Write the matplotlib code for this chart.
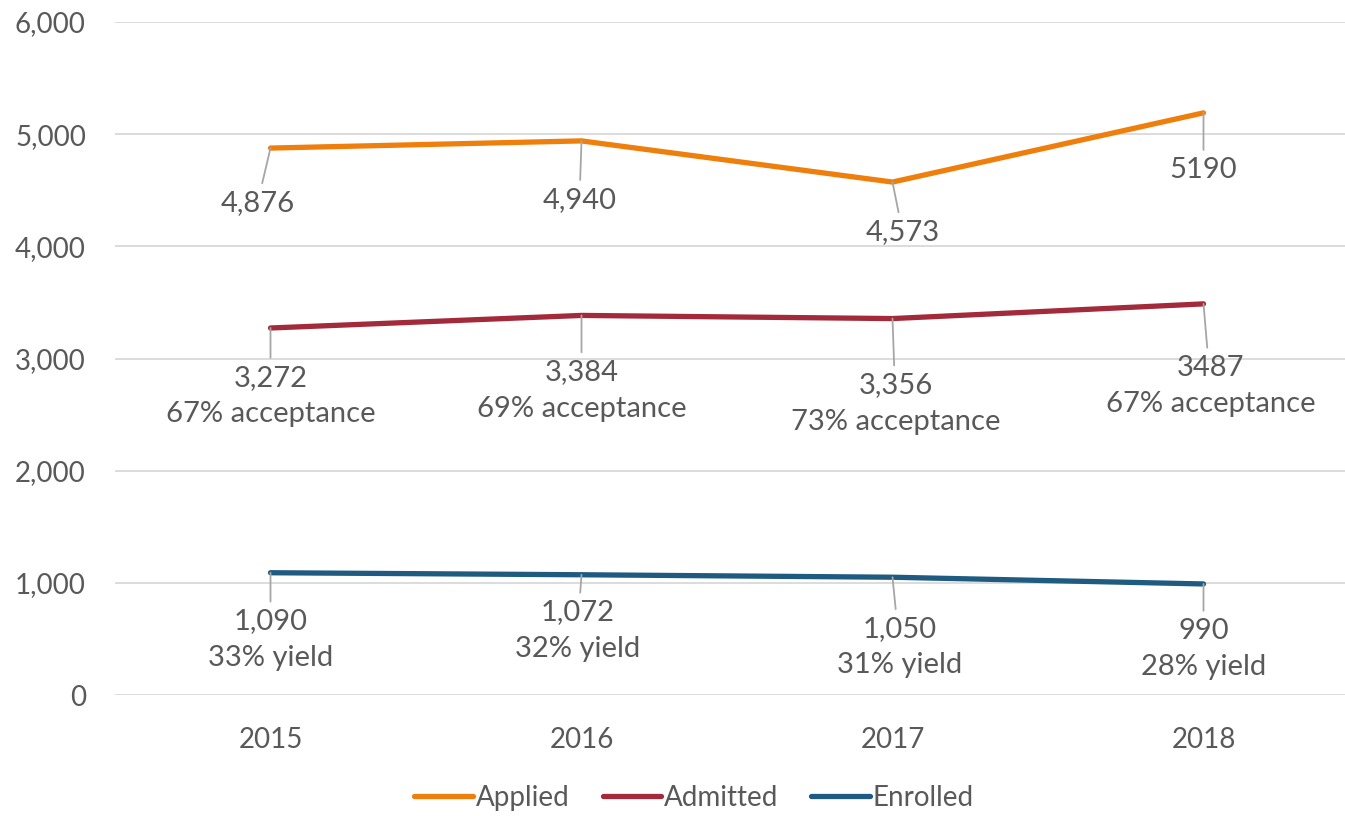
import matplotlib
matplotlib.use("Agg")
import matplotlib.pyplot as plt

years = ["2015", "2016", "2017", "2018"]
applied = [4876, 4940, 4573, 5190]
admitted = [3272, 3384, 3356, 3487]
enrolled = [1090, 1072, 1050, 990]
applied_labels = ["4,876", "4,940", "4,573", "5190"]
admitted_labels = ["3,272\n67% acceptance", "3,384\n69% acceptance",
                   "3,356\n73% acceptance", "3487\n67% acceptance"]
enrolled_labels = ["1,090\n33% yield", "1,072\n32% yield",
                   "1,050\n31% yield", "990\n28% yield"]
yticks = [0, 1000, 2000, 3000, 4000, 5000, 6000]

plt.rcParams['font.family'] = ['Lato', 'DejaVu Sans']
TXT = '#595959'
C_APP = '#EF7F0C'
C_ADM = '#A22A3A'
C_ENR = '#1F5A80'
FS = 21

fig = plt.figure(figsize=(13.45, 8.16), dpi=100)
W, H = 1345, 816
ax = fig.add_axes([115 / W, 1 - 695 / H, 1230 / W, (695 - 22) / H])
x = list(range(len(years)))
ax.set_xlim(-0.5, -0.5 + 1230 / 311)
ax.set_ylim(0, 6000)
ax.set_yticks(yticks)
ax.set_yticklabels([f"{v:,}" for v in yticks])
ax.set_xticks(x)
ax.set_xticklabels(years)
ax.tick_params(length=0, labelsize=20, colors=TXT)
ax.tick_params(axis='y', pad=21)
ax.tick_params(axis='x', pad=23)
for s in ax.spines.values():
    s.set_visible(False)
ax.grid(axis='y', color='#D9D9D9', linewidth=1.3)
ax.set_axisbelow(True)

lw = 3.8
ax.plot(x, applied, color=C_APP, lw=lw, solid_capstyle='round', label='Applied', zorder=3)
ax.plot(x, admitted, color=C_ADM, lw=lw, solid_capstyle='round', label='Admitted', zorder=3)
ax.plot(x, enrolled, color=C_ENR, lw=lw, solid_capstyle='round', label='Enrolled', zorder=3)

app_off = [(-13, -55), (-2, -59), (10, -50), (0, -57)]
adm_off = [(0, -68), (0, -75), (3, -85), (7, -82)]
enr_off = [(0, -67), (-4, -56), (7, -70), (0, -65)]

def lab(vals, labels, offs):
    for i, (v, t, o) in enumerate(zip(vals, labels, offs)):
        ax.annotate(t, xy=(i, v), xytext=o, textcoords='offset pixels',
                    ha='center', va='center', fontsize=FS, color=TXT,
                    linespacing=1.5, zorder=4,
                    arrowprops=dict(arrowstyle='-', color='#A6A6A6', lw=1.3,
                                    shrinkA=3, shrinkB=0))

lab(applied, applied_labels, app_off)
lab(admitted, admitted_labels, adm_off)
lab(enrolled, enrolled_labels, enr_off)

leg = fig.legend(loc='center', bbox_to_anchor=(694 / W, 1 - 798 / H), ncol=3,
                 frameon=False, fontsize=20, handlelength=2.1,
                 handletextpad=0.1, columnspacing=1.2, labelcolor=TXT)

fig.savefig('out.png', dpi=100)
